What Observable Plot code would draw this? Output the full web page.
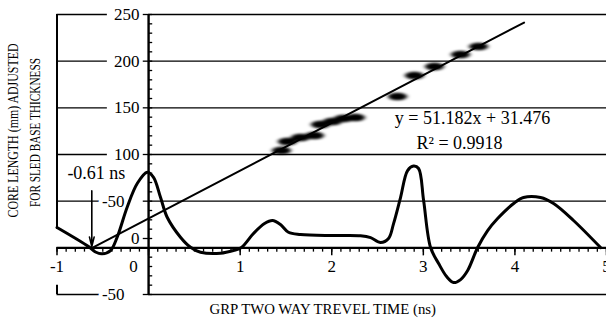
<!DOCTYPE html>
<html><head><meta charset="utf-8">
<script src="https://cdn.jsdelivr.net/npm/d3@7"></script>
<script src="https://cdn.jsdelivr.net/npm/@observablehq/plot@0.6"></script>
<style>
html,body{margin:0;padding:0;background:#fff;overflow:hidden;}
svg text{font-family:"Liberation Serif","Times New Roman",serif;}
</style></head><body><div id="chart"></div>
<script>
// GPR trace (waveform)
const traceX = [-1.0,-0.656,-0.580,-0.507,-0.416,-0.343,-0.234,-0.124,-0.015,0.054,0.130,0.203,0.348,0.458,0.567,0.785,0.927,1.014,1.145,1.266,1.353,1.440,1.527,1.659,2.019,2.314,2.424,2.533,2.620,2.675,2.751,2.828,2.893,2.948,3.003,3.079,3.167,3.254,3.331,3.407,3.484,3.593,3.702,3.811,3.986,4.094,4.280,4.422,4.640,4.935];
const traceY = [21.8,1.4,-4.5,-6.4,-2.9,11.4,43.5,68.9,81.0,75.6,54.2,32.8,11.4,0.6,-4.7,-5.8,-2.9,0.3,15.3,26.0,29.3,25.0,16.7,14.3,13.2,12.9,11.0,5.7,10.0,26.0,53.9,82.8,87.6,85.0,50.7,0.3,-16.8,-30.8,-37.2,-34.0,-24.3,0.3,18.5,31.4,47.5,53.9,53.9,47.5,29.3,0.3];
// core samples
const coreTime = [1.451,1.516,1.659,1.811,1.877,2.007,2.128,2.259,2.718,2.903,3.122,3.406,3.603];
const coreLength = [104.3,113.9,118.2,120.3,132.1,135.3,138.6,139.7,162.1,184.6,194.2,207.1,215.7];
// regression
const slope = 51.182, intercept = 31.476;
const fitRange = [-0.615, 4.1];
// axes
const gridY = [250, 200, 150, 100, 50, -50];
const yLabelText = ["250", "200", "150", "100", "0"];
const yLabelPos = [250, 200, 150, 100, 10];
const yLabelNegText = ["-50", "-50"];
const yLabelNegPos = [50, -50];
const xTickVals = [-1, 1, 2, 3, 4, 5];
const xTickText = ["-1", "1", "2", "3", "4", "5"];
const xZeroVals = [-0.16];
const xZeroText = ["0"];
const eqText = "y = 51.182x + 31.476";
const r2Text = "R² = 0.9918";
const annText = "-0.61 ns";
const annX = -0.62;
const xTitle = "GRP TWO WAY TREVEL TIME (ns)";
const yTitle1 = "CORE LENGTH (mm) ADJUSTED";
const yTitle2 = "FOR SLED BASE THICKNESS";

const trace = traceX.map((x, i) => ({x, y: traceY[i]}));
const cores = coreTime.map((x, i) => ({x, y: coreLength[i]}));
const fit = fitRange.map(x => ({x, y: slope * x + intercept}));
const xLabels = xTickVals.map((x, i) => ({x, label: xTickText[i]}));
const xMinor = d3.range(-10, 51).map(i => i / 10);
const yMinor = d3.range(-5, 26).map(i => i * 10);
const gridLeftEnd = -0.45;

const ellipse = {
  draw(ctx) {
    const rx = 9.5, ry = 3.8, k = 0.5523;
    ctx.moveTo(rx, 0);
    ctx.bezierCurveTo(rx, ry * k, rx * k, ry, 0, ry);
    ctx.bezierCurveTo(-rx * k, ry, -rx, ry * k, -rx, 0);
    ctx.bezierCurveTo(-rx, -ry * k, -rx * k, -ry, 0, -ry);
    ctx.bezierCurveTo(rx * k, -ry, rx, -ry * k, rx, 0);
    ctx.closePath();
  }
};

const font = '"Liberation Serif", "Times New Roman", serif';
const T = {fill: "black", fontFamily: font};
const chart = Plot.plot({
  width: 606,
  height: 323,
  marginLeft: 56.5,
  marginRight: 0,
  marginTop: 14,
  marginBottom: 29,
  x: {domain: [-1, 5], axis: null},
  y: {domain: [-50, 250], axis: null},
  style: {fontFamily: font, background: "white", color: "black"},
  marks: [
    Plot.ruleY(gridY, {x1: -1, x2: gridLeftEnd, stroke: "black", strokeWidth: 1.4}),
    Plot.ruleY(gridY, {x1: 0, x2: 5.02, stroke: "black", strokeWidth: 1.4}),
    Plot.ruleX([-1], {y1: 250, y2: 20, stroke: "black", strokeWidth: 2}),
    Plot.ruleX([-1], {y1: -40, y2: -50, stroke: "black", strokeWidth: 2}),
    Plot.text(yLabelPos, {...T, x: 0, y: d => d, text: (d, i) => yLabelText[i], textAnchor: "end", dx: -9, fontSize: 17, stroke: "white", strokeWidth: 8}),
    Plot.text(yLabelNegPos, {...T, x: 0, y: d => d, text: (d, i) => yLabelNegText[i], textAnchor: "end", dx: -24, fontSize: 17, stroke: "white", strokeWidth: 8}),
    Plot.ruleY([0], {x1: -1, x2: 5, stroke: "black", strokeWidth: 2.4}),
    Plot.ruleX(xMinor, {x: d => d, y1: 0, y2: -4.6, stroke: "black", strokeWidth: 1.3}),
    Plot.ruleX(d3.range(-1, 6), {x: d => d, y1: 0, y2: -8.6, stroke: "black", strokeWidth: 1.5}),
    Plot.ruleX([0], {y1: -50, y2: 250, stroke: "black", strokeWidth: 2.4}),
    Plot.ruleY(yMinor, {y: d => d, x1: 0, x2: 0.045, stroke: "black", strokeWidth: 1.3}),
    Plot.ruleY(yLabelPos.concat(yLabelNegPos), {y: d => d, x1: -0.058, x2: 0, stroke: "black", strokeWidth: 1.3}),
    Plot.text(xLabels, {...T, x: "x", y: () => 0, text: "label", dy: 19, fontSize: 17, stroke: "white", strokeWidth: 5}),
    Plot.line(fit, {x: "x", y: "y", stroke: "black", strokeWidth: 2}),
    Plot.dot(cores, {x: "x", y: "y", symbol: ellipse, fill: "black", stroke: "none"}),
    Plot.line(trace, {x: "x", y: "y", curve: "catmull-rom", stroke: "black", strokeWidth: 3}),
    Plot.arrow([annX], {x1: d => d, x2: d => d, y1: 61, y2: 1.5, stroke: "black", strokeWidth: 1.6, headLength: 9, headAngle: 28}),
    Plot.text([annText], {...T, x: -0.57, y: 79.6, text: d => d, fontSize: 18}),
    Plot.text([eqText], {...T, x: 3.537, y: 138.5, text: d => d, fontSize: 18}),
    Plot.text([r2Text], {...T, x: 3.395, y: 111.7, text: d => d, fontSize: 18}),
    Plot.text([xTitle], {...T, frameAnchor: "bottom", textAnchor: "middle", text: d => d, dx: -9, dy: 19, fontSize: 14.8}),
    Plot.text([yTitle1], {...T, frameAnchor: "left", textAnchor: "middle", text: d => d, dx: -43.5, dy: -24, rotate: -90, fontSize: 14}),
    Plot.text([yTitle2], {...T, frameAnchor: "left", textAnchor: "middle", text: d => d, dx: -21, dy: -22, rotate: -90, fontSize: 14})
  ]
});

const svg = d3.select(chart);
const defs = svg.insert("defs", ":first-child");
defs.append("filter").attr("id", "blobBlur").attr("x", "-50%").attr("y", "-100%").attr("width", "200%").attr("height", "300%")
  .append("feGaussianBlur").attr("stdDeviation", "2 1.3");
svg.selectAll('g[aria-label="dot"]').attr("filter", "url(#blobBlur)");
svg.selectAll("text").filter(function() { return this.textContent === yTitle1; })
  .attr("textLength", 174).attr("lengthAdjust", "spacingAndGlyphs");
svg.selectAll("text").filter(function() { return this.textContent === yTitle2; })
  .attr("textLength", 149).attr("lengthAdjust", "spacingAndGlyphs");
// x-axis "0" label placed with the chart's own scales
const xs = chart.scale("x"), ys = chart.scale("y");
svg.append("g").attr("aria-label", "x zero label")
  .selectAll("text").data(xZeroVals).join("text")
  .attr("x", d => xs.apply(d))
  .attr("y", ys.apply(0) + 19)
  .attr("dy", "0.32em")
  .attr("text-anchor", "middle")
  .attr("font-size", 17)
  .attr("font-family", font)
  .attr("fill", "black")
  .text((d, i) => xZeroText[i]);
document.getElementById("chart").appendChild(chart);
</script>
</body></html>
